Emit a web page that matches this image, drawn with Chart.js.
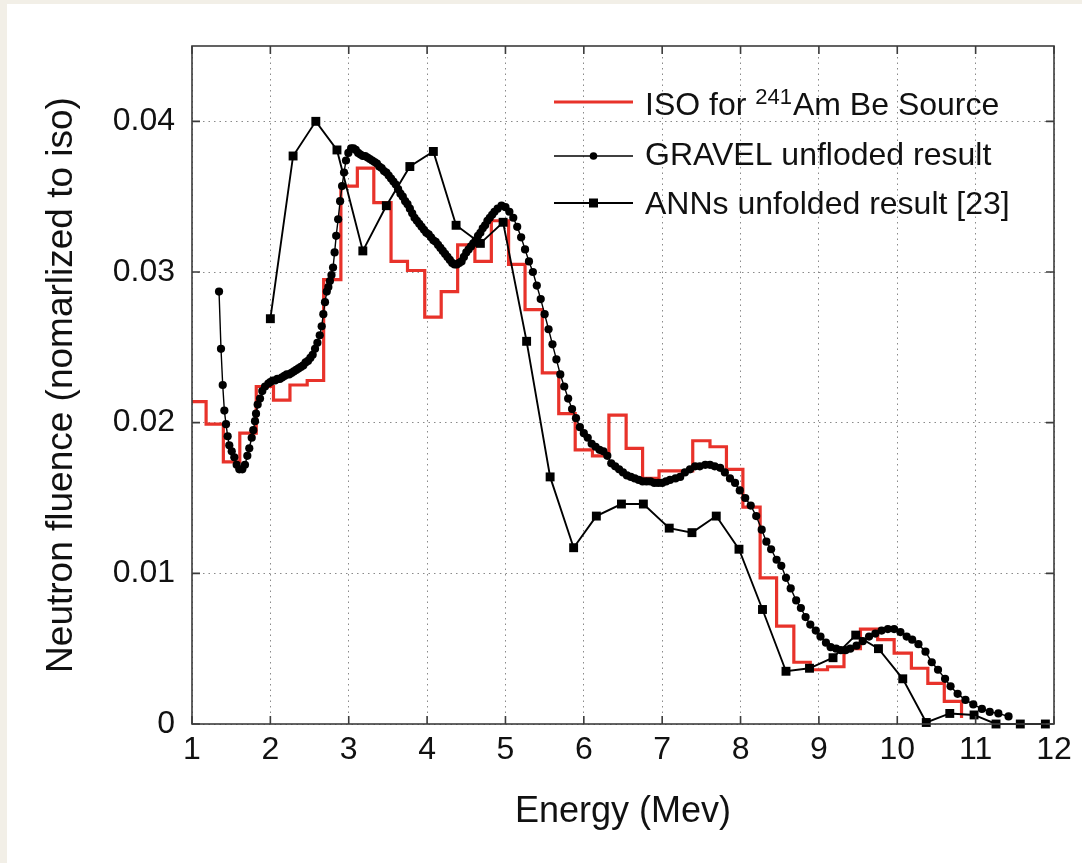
<!DOCTYPE html>
<html>
<head>
<meta charset="utf-8">
<script src="https://cdn.jsdelivr.net/npm/chart.js@4.4.0/dist/chart.umd.min.js"></script>
<style>
  html, body { margin: 0; padding: 0; background: #f2efe7; }
  #wrap { position: absolute; left: 0; top: 0; width: 1082px; height: 863px; }
</style>
</head>
<body>
<div id="wrap"><canvas id="chart" width="1082" height="863"></canvas></div>
<script>
// ISO 8529 AmBe reference spectrum: bin edges and bin values (last value = end of last step)
const isoEdges = [0.97, 1.18, 1.40, 1.61, 1.82, 2.04, 2.25, 2.47, 2.68, 2.90, 3.11, 3.32, 3.54, 3.75, 3.97, 4.18,
  4.39, 4.61, 4.82, 5.04, 5.25, 5.47, 5.68, 5.89, 6.11, 6.32, 6.54, 6.75, 6.96, 7.18, 7.39, 7.61, 7.82, 8.03,
  8.25, 8.46, 8.68, 8.89, 9.11, 9.32, 9.53, 9.75, 9.96, 10.18, 10.39, 10.60, 10.82];
const isoValues = [0.0214, 0.0199, 0.0174, 0.0193, 0.0224, 0.0215, 0.0225, 0.0228, 0.0295, 0.0357, 0.0369, 0.0346,
  0.0307, 0.0301, 0.0270, 0.0287, 0.0318, 0.0307, 0.0334, 0.0305, 0.0275, 0.0233, 0.0206, 0.0182, 0.0178, 0.0205,
  0.0183, 0.0163, 0.0168, 0.0168, 0.0188, 0.0184, 0.0169, 0.0144, 0.0097, 0.0065, 0.0041, 0.0036, 0.0038, 0.0050,
  0.0063, 0.0056, 0.0047, 0.0037, 0.0027, 0.0015, 0.0004];

// GRAVEL unfolded spectrum (dots)
const gravelEnergy = [1.345, 1.370, 1.392, 1.413, 1.434, 1.455, 1.476, 1.507, 1.540, 1.570, 1.604, 1.642, 1.676,
  1.706, 1.731, 1.762, 1.782, 1.804, 1.817, 1.838, 1.868, 1.897, 1.932, 1.974, 2.00, 2.03, 2.06, 2.09, 2.12, 2.15,
  2.18, 2.21, 2.24, 2.27, 2.30, 2.33, 2.36, 2.39, 2.42, 2.45, 2.48, 2.51, 2.54, 2.57, 2.60, 2.63, 2.655, 2.676,
  2.697, 2.72, 2.74, 2.76, 2.78, 2.80, 2.82, 2.84, 2.865, 2.89, 2.915, 2.94, 2.965, 2.995, 3.03, 3.06, 3.09, 3.12,
  3.15, 3.18, 3.21, 3.24, 3.27, 3.30, 3.33, 3.36, 3.39, 3.42, 3.45, 3.48, 3.51, 3.54, 3.57, 3.60, 3.63, 3.66, 3.69,
  3.72, 3.75, 3.78, 3.81, 3.84, 3.87, 3.90, 3.93, 3.96, 3.99, 4.02, 4.05, 4.08, 4.11, 4.14, 4.17, 4.20, 4.23, 4.26,
  4.29, 4.32, 4.35, 4.38, 4.41, 4.44, 4.47, 4.50, 4.53, 4.56, 4.59, 4.62, 4.65, 4.68, 4.71, 4.74, 4.77, 4.80, 4.83,
  4.86, 4.90, 4.95, 5.00, 5.05, 5.10, 5.15, 5.20, 5.25, 5.30, 5.35, 5.40, 5.45, 5.50, 5.55, 5.60, 5.65, 5.70, 5.75,
  5.80, 5.85, 5.90, 5.95, 6.00, 6.05, 6.10, 6.15, 6.20, 6.25, 6.30, 6.35, 6.40, 6.45, 6.50, 6.55, 6.60, 6.65, 6.70,
  6.75, 6.80, 6.85, 6.90, 6.95, 7.00, 7.05, 7.10, 7.17, 7.23, 7.29, 7.355, 7.42, 7.48, 7.55, 7.61, 7.67, 7.74, 7.80,
  7.865, 7.93, 7.99, 8.06, 8.13, 8.20, 8.27, 8.33, 8.39, 8.46, 8.52, 8.58, 8.64, 8.71, 8.77, 8.83, 8.89, 8.96, 9.02,
  9.09, 9.15, 9.22, 9.28, 9.34, 9.40, 9.48, 9.56, 9.64, 9.72, 9.80, 9.88, 9.96, 10.04, 10.12, 10.19, 10.27, 10.36,
  10.44, 10.52, 10.61, 10.68, 10.77, 10.87, 10.97, 11.08, 11.18, 11.29, 11.42];
const gravelValues = [0.0287, 0.0249, 0.0225, 0.0208, 0.0199, 0.0191, 0.0185, 0.0181, 0.0177, 0.0172, 0.0169, 0.0169,
  0.0172, 0.0178, 0.0183, 0.0190, 0.0195, 0.0201, 0.0206, 0.0212, 0.0216, 0.0221, 0.0224, 0.0226, 0.0227, 0.0228,
  0.0228, 0.0229, 0.0229, 0.0230, 0.0231, 0.0232, 0.0232, 0.0233, 0.0234, 0.0235, 0.0236, 0.0237, 0.0238, 0.0240,
  0.0241, 0.0243, 0.0245, 0.0249, 0.0253, 0.0258, 0.0264, 0.0272, 0.0280, 0.0287, 0.0290, 0.0294, 0.0298, 0.0303,
  0.0313, 0.0324, 0.0335, 0.0347, 0.0357, 0.0366, 0.0374, 0.0379, 0.0382, 0.0382, 0.0381, 0.0379, 0.0378, 0.0377,
  0.0377, 0.0376, 0.0375, 0.0374, 0.0373, 0.0372, 0.0370, 0.0369, 0.0367, 0.0366, 0.0364, 0.0362, 0.0360, 0.0358,
  0.0355, 0.0352, 0.0350, 0.0347, 0.0345, 0.0342, 0.0339, 0.0336, 0.0334, 0.0332, 0.0330, 0.0328, 0.0326, 0.0325,
  0.0323, 0.0321, 0.0320, 0.0318, 0.0316, 0.0314, 0.0312, 0.0310, 0.0308, 0.0306, 0.0305, 0.0305, 0.0306, 0.0307,
  0.0310, 0.0313, 0.0315, 0.0317, 0.0319, 0.0321, 0.0324, 0.0326, 0.0329, 0.0331, 0.0334, 0.0336, 0.0338, 0.0340,
  0.0342, 0.0344, 0.0343, 0.0340, 0.0336, 0.0330, 0.0323, 0.0315, 0.0307, 0.0300, 0.0291, 0.0282, 0.0272, 0.0262,
  0.0252, 0.0242, 0.0232, 0.0224, 0.0216, 0.0209, 0.0203, 0.0197, 0.0193, 0.0190, 0.0186, 0.0184, 0.0182, 0.0181,
  0.0178, 0.0173, 0.0171, 0.0169, 0.0167, 0.0165, 0.0164, 0.0163, 0.0162, 0.0161, 0.0161, 0.0161, 0.0160, 0.0160,
  0.0160, 0.0161, 0.0162, 0.0163, 0.0164, 0.0167, 0.0169, 0.0171, 0.0171, 0.0172, 0.0172, 0.0171, 0.0170, 0.0167,
  0.0163, 0.0160, 0.0155, 0.0150, 0.0145, 0.0138, 0.0129, 0.0121, 0.0116, 0.0109, 0.0105, 0.0097, 0.0090, 0.0082,
  0.0077, 0.0071, 0.0066, 0.0062, 0.0058, 0.0054, 0.0051, 0.0050, 0.0049, 0.0049, 0.0050, 0.0052, 0.0055, 0.0058,
  0.0060, 0.0062, 0.0063, 0.0063, 0.0061, 0.0058, 0.0056, 0.0053, 0.0048, 0.0041, 0.0036, 0.0030, 0.0025, 0.0020,
  0.0016, 0.0013, 0.0010, 0.0008, 0.0007, 0.0005];

// ANNs unfolded result [23] (squares)
const annEnergy = [2.00, 2.29, 2.58, 2.85, 3.18, 3.48, 3.78, 4.08, 4.37, 4.68, 4.97, 5.27, 5.57, 5.87, 6.16, 6.48,
  6.76, 7.09, 7.38, 7.69, 7.98, 8.28, 8.58, 8.88, 9.18, 9.47, 9.76, 10.07, 10.37, 10.67, 10.98, 11.26, 11.57, 11.89];
const annValues = [0.0269, 0.0377, 0.0400, 0.0381, 0.0314, 0.0344, 0.0370, 0.0380, 0.0331, 0.0319, 0.0333, 0.0254,
  0.0164, 0.0117, 0.0138, 0.0146, 0.0146, 0.0130, 0.0127, 0.0138, 0.0116, 0.0076, 0.0035, 0.0037, 0.0044, 0.0059,
  0.0050, 0.0030, 0.0001, 0.0007, 0.0006, 0, 0, 0];

const xTicks = [1, 2, 3, 4, 5, 6, 7, 8, 9, 10, 11, 12];
const yTicks = [0, 0.01, 0.02, 0.03, 0.04];

const FONT = '"Liberation Sans", Arial, Helvetica, sans-serif';
const RED = '#e8322a';

const pts = (xs, ys) => xs.map((x, i) => ({x: x, y: ys[i]}));

// background panel, box, inward ticks, legend
const framePlugin = {
  id: 'frame',
  beforeDraw(chart) {
    const ctx = chart.ctx;
    ctx.save();
    ctx.fillStyle = '#f2efe7';
    ctx.fillRect(0, 0, chart.width, chart.height);
    ctx.fillStyle = '#ffffff';
    ctx.fillRect(7, 4, chart.width - 7, chart.height - 4);
    ctx.restore();
  },
  afterDatasetsDraw(chart) {
    const {ctx, chartArea: a, scales: {x, y}} = chart;
    ctx.save();
    ctx.strokeStyle = '#3c3c3c';
    ctx.lineWidth = 1.6;
    ctx.strokeRect(a.left, a.top, a.right - a.left, a.bottom - a.top);
    ctx.beginPath();
    x.ticks.forEach(t => {
      const px = x.getPixelForValue(t.value);
      ctx.moveTo(px, a.bottom); ctx.lineTo(px, a.bottom - 8);
      ctx.moveTo(px, a.top); ctx.lineTo(px, a.top + 8);
    });
    y.ticks.forEach(t => {
      const py = y.getPixelForValue(t.value);
      ctx.moveTo(a.left, py); ctx.lineTo(a.left + 8, py);
      ctx.moveTo(a.right, py); ctx.lineTo(a.right - 8, py);
    });
    ctx.stroke();
    ctx.restore();
  },
  afterDraw(chart) {
    const ctx = chart.ctx;
    const x0 = 554, x1 = 633, tx = 645;
    ctx.save();
    // ISO row
    ctx.strokeStyle = RED; ctx.lineWidth = 3;
    ctx.beginPath(); ctx.moveTo(x0, 102); ctx.lineTo(x1, 102); ctx.stroke();
    // GRAVEL row
    ctx.strokeStyle = '#000'; ctx.lineWidth = 1.3;
    ctx.beginPath(); ctx.moveTo(x0, 156); ctx.lineTo(x1, 156); ctx.stroke();
    ctx.fillStyle = '#000';
    ctx.beginPath(); ctx.arc((x0 + x1) / 2, 156, 3.8, 0, Math.PI * 2); ctx.fill();
    // ANN row
    ctx.lineWidth = 1.9;
    ctx.beginPath(); ctx.moveTo(x0, 203); ctx.lineTo(x1, 203); ctx.stroke();
    ctx.fillRect((x0 + x1) / 2 - 4.5, 198.5, 9, 9);

    ctx.fillStyle = '#111';
    ctx.textBaseline = 'alphabetic';
    ctx.textAlign = 'left';
    ctx.font = '32px ' + FONT;
    ctx.fillText('ISO for ', tx, 115);
    let w = ctx.measureText('ISO for ').width;
    ctx.font = '22px ' + FONT;
    ctx.fillText('241', tx + w, 104);
    w += ctx.measureText('241').width;
    ctx.font = '32px ' + FONT;
    ctx.fillText('Am Be Source', tx + w + 1, 115);
    ctx.fillText('GRAVEL unfloded result', tx, 165);
    ctx.fillText('ANNs unfolded result [23]', tx, 214);
    ctx.restore();
  }
};

new Chart(document.getElementById('chart'), {
  type: 'line',
  data: {
    datasets: [
      {
        label: 'ANNs unfolded result [23]',
        data: pts(annEnergy, annValues),
        borderColor: '#000', backgroundColor: '#000',
        borderWidth: 1.9, pointStyle: 'rect', pointRadius: 6.3, pointBorderWidth: 0,
        tension: 0, order: 1, clip: 10
      },
      {
        label: 'GRAVEL unfloded result',
        data: pts(gravelEnergy, gravelValues),
        borderColor: '#000', backgroundColor: '#000',
        borderWidth: 1.4, pointStyle: 'circle', pointRadius: 4.1, pointBorderWidth: 0,
        tension: 0, order: 2, clip: 10
      },
      {
        label: 'ISO for 241Am Be Source',
        data: pts(isoEdges, isoValues),
        borderColor: RED, backgroundColor: RED,
        borderWidth: 3.2, pointRadius: 0, stepped: 'before',
        tension: 0, order: 3
      }
    ]
  },
  options: {
    responsive: false,
    animation: false,
    devicePixelRatio: 1,
    layout: {padding: {top: 46, right: 28, left: 0, bottom: 0}},
    plugins: {legend: {display: false}, tooltip: {enabled: false}},
    scales: {
      x: {
        type: 'linear', min: 1, max: 12,
        afterFit: s => { s.height = 139; },
        afterBuildTicks: s => { s.ticks = xTicks.map(v => ({value: v})); },
        ticks: {
          color: '#111', font: {family: FONT, size: 32}, padding: 7,
          maxRotation: 0, autoSkip: false, callback: v => String(v)
        },
        grid: {color: '#8a8a8a', lineWidth: 1, drawTicks: false},
        border: {display: false, dash: [1.5, 4]},
        title: {display: true, text: 'Energy (Mev)', color: '#111',
          font: {family: FONT, size: 36}, padding: {top: 0, bottom: 29}}
      },
      y: {
        type: 'linear', min: 0, max: 0.045,
        afterFit: s => { s.width = 192; },
        afterBuildTicks: s => { s.ticks = yTicks.map(v => ({value: v})); },
        ticks: {
          color: '#111', font: {family: FONT, size: 32}, padding: 17,
          callback: v => v === 0 ? '0' : v.toFixed(2)
        },
        grid: {color: '#8a8a8a', lineWidth: 1, drawTicks: false},
        border: {display: false, dash: [1.5, 4]},
        title: {display: true, text: 'Neutron fluence (nomarlized to iso)', color: '#111',
          font: {family: FONT, size: 37}, padding: {top: 40, bottom: 0}}
      }
    }
  },
  plugins: [framePlugin]
});
</script>
</body>
</html>
